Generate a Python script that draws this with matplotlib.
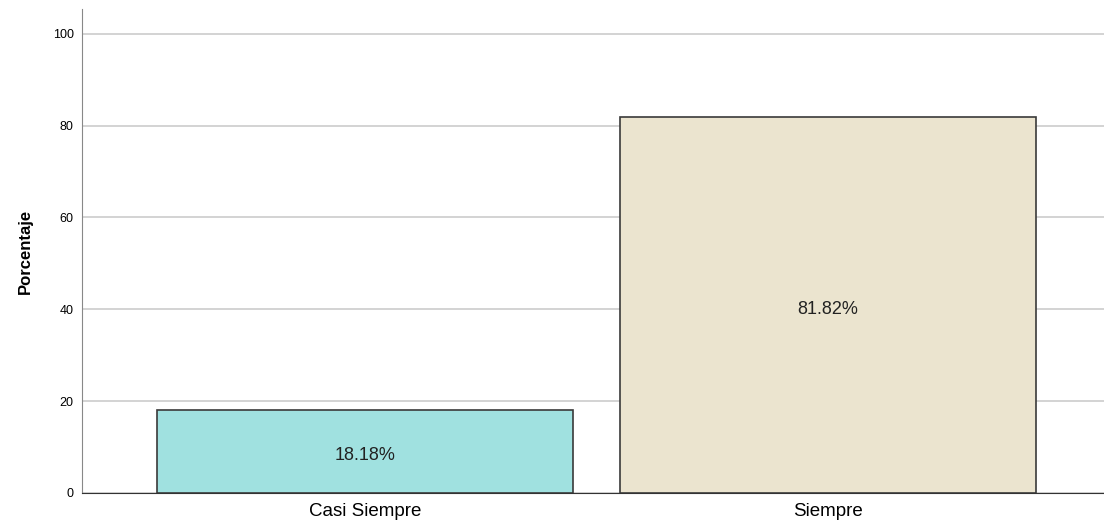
import matplotlib
matplotlib.use("Agg")
import matplotlib.pyplot as plt
import numpy as np

plt.rcParams['font.family'] = ['Liberation Sans', 'DejaVu Sans']

categories = ["Casi Siempre", "Siempre"]
values = [18.18, 81.82]
colors = ["#A0E1E0", "#EBE4CF"]
yticks = [0, 20, 40, 60, 80, 100]

fig = plt.figure(figsize=(11.04, 5.28), dpi=100)
ax = fig.add_axes([0.0743, 0.0663, 0.9257, 0.9167])

x = np.arange(len(categories))
bars = ax.bar(x, values, width=0.898, color=colors, edgecolor="#3a3a3a",
              linewidth=1.2, zorder=3)

# labels sit a bit under the bar middle in the original
for b, v in zip(bars, values):
    ax.text(b.get_x() + b.get_width() / 2, v / 2 - 1.0, "{:.2f}%".format(v),
            ha="center", va="center", fontsize=13, color="#222222", zorder=4)

ax.set_xlim(-0.611, 1.596)
ax.set_ylim(0, 105.4)
ax.set_yticks(yticks)
ax.set_xticks(x)
ax.set_xticklabels(categories, fontsize=13.5)
ax.tick_params(axis="y", labelsize=9, length=0, pad=6)
ax.tick_params(axis="x", length=0, pad=7)
ax.yaxis.grid(True, color="#cccccc", linewidth=1.2, zorder=0)
ax.set_axisbelow(True)

for s in ["top", "right"]:
    ax.spines[s].set_visible(False)
ax.spines["left"].set_color("#888888")
ax.spines["bottom"].set_color("#333333")

ax.set_ylabel("Porcentaje", fontsize=12, fontweight="bold", labelpad=14,
              family=['Liberation Sans Narrow', 'Liberation Sans', 'DejaVu Sans'])

fig.savefig("out.png", dpi=100)
